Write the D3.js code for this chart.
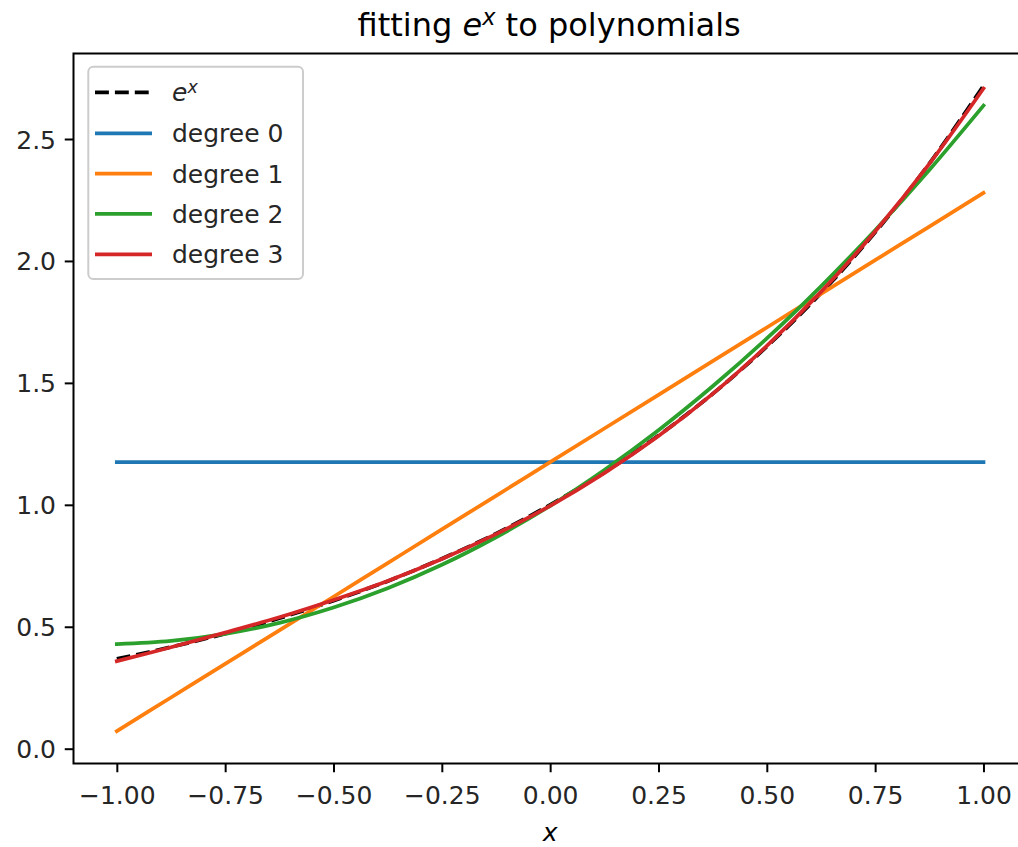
<!DOCTYPE html>
<html>
<head>
<meta charset="utf-8">
<script src="https://cdn.jsdelivr.net/npm/d3@7"></script>
<style>
  html, body { margin: 0; padding: 0; background: #fff; }
  svg { display: block; font-family: "DejaVu Sans", sans-serif; }
</style>
</head>
<body>
<svg id="chart" width="1018" height="847"></svg>
<script>
// ---- data ----
const xs = [-1, -0.875, -0.75, -0.625, -0.5, -0.375, -0.25, -0.125, 0,
            0.125, 0.25, 0.375, 0.5, 0.625, 0.75, 0.875, 1];
const expValues = [0.368, 0.417, 0.472, 0.535, 0.607, 0.687, 0.779, 0.882, 1.000,
                   1.133, 1.284, 1.455, 1.649, 1.868, 2.117, 2.399, 2.718];
const deg0Values = [1.175, 1.175, 1.175, 1.175, 1.175, 1.175, 1.175, 1.175, 1.175,
                    1.175, 1.175, 1.175, 1.175, 1.175, 1.175, 1.175, 1.175];
const deg1Values = [0.072, 0.210, 0.348, 0.485, 0.623, 0.761, 0.899, 1.037, 1.175,
                    1.313, 1.451, 1.589, 1.727, 1.865, 2.003, 2.141, 2.279];
const deg2Values = [0.429, 0.442, 0.471, 0.516, 0.579, 0.658, 0.754, 0.867, 0.996,
                    1.143, 1.306, 1.486, 1.682, 1.896, 2.126, 2.373, 2.637];
const deg3Values = [0.359, 0.416, 0.476, 0.539, 0.610, 0.688, 0.778, 0.880, 0.996,
                    1.130, 1.282, 1.455, 1.652, 1.873, 2.121, 2.398, 2.707];
const xTicks = [-1.00, -0.75, -0.50, -0.25, 0.00, 0.25, 0.50, 0.75, 1.00];
const yTicks = [0.0, 0.5, 1.0, 1.5, 2.0, 2.5];
const seriesNames = ["degree 0", "degree 1", "degree 2", "degree 3"];
const seriesColors = ["#1f77b4", "#ff7f0e", "#2ca02c", "#d62728"];

// ---- layout ----
const svg = d3.select("#chart");
const L = 73.5, R = 1026.8, T = 53.5, B = 763.5;
const tickFont = 25, titleFont = 32;
const lw = 3.75;

const x = d3.scaleLinear().domain([-1.1, 1.1]).range([L, R]);
const y = d3.scaleLinear().domain([-0.0607, 2.8506]).range([B, T]);

svg.append("rect").attr("width", 1018).attr("height", 847).attr("fill", "#fff");

const clip = svg.append("defs").append("clipPath").attr("id", "plotclip");
clip.append("rect").attr("x", L).attr("y", T).attr("width", R - L).attr("height", B - T);

const plot = svg.append("g").attr("clip-path", "url(#plotclip)");
const line = d3.line().x(d => x(d[0])).y(d => y(d[1])).curve(d3.curveCatmullRom);

function addLine(vals, color, dashed) {
  plot.append("path")
    .datum(xs.map((v, i) => [v, vals[i]]))
    .attr("d", line)
    .attr("fill", "none")
    .attr("stroke", color)
    .attr("stroke-width", lw)
    .attr("stroke-linecap", dashed ? "butt" : "square")
    .attr("stroke-linejoin", "round")
    .attr("stroke-dasharray", dashed ? "13.9,6" : null);
}
addLine(expValues, "#000", true);
[deg0Values, deg1Values, deg2Values, deg3Values].forEach((v, i) => addLine(v, seriesColors[i], false));

// ---- axes ----
const xAxis = d3.axisBottom(x).tickValues(xTicks)
  .tickFormat(d => d3.format(".2f")(d).replace("-", "\u2212"))
  .tickSize(8.75).tickPadding(8.75);
const gx = svg.append("g").attr("transform", `translate(0,${B})`).call(xAxis);
const yAxis = d3.axisLeft(y).tickValues(yTicks)
  .tickFormat(d3.format(".1f")).tickSize(8.75).tickPadding(8.75);
const gy = svg.append("g").attr("transform", `translate(${L},0)`).call(yAxis);
[gx, gy].forEach(g => {
  g.select(".domain").remove();
  g.selectAll(".tick line").attr("stroke", "#000").attr("stroke-width", 2);
  g.selectAll(".tick text").attr("font-size", tickFont).attr("fill", "#262626")
    .attr("font-family", "DejaVu Sans");
});
gx.selectAll(".tick text").attr("dy", null).attr("y", 40.5);
gy.selectAll(".tick text").attr("dy", "0.36em");

// spines
svg.append("rect").attr("x", L).attr("y", T).attr("width", R - L).attr("height", B - T)
  .attr("fill", "none").attr("stroke", "#000").attr("stroke-width", 2);

// ---- title ----
const title = svg.append("text").attr("x", (L + R) / 2 - 1).attr("y", 36)
  .attr("text-anchor", "middle").attr("font-size", titleFont).attr("fill", "#000");
title.append("tspan").text("fitting ");
title.append("tspan").attr("font-style", "italic").text("e");
title.append("tspan").attr("font-style", "italic").attr("font-size", titleFont * 0.7)
  .attr("dy", -titleFont * 0.33).text("x");
title.append("tspan").attr("dy", titleFont * 0.33).text(" to polynomials");

// ---- x label ----
svg.append("text").attr("x", (L + R) / 2).attr("y", 841)
  .attr("text-anchor", "middle").attr("font-size", tickFont).attr("font-style", "italic")
  .attr("fill", "#000").text("x");

// ---- legend ----
const leg = svg.append("g");
leg.append("rect").attr("x", 88.3).attr("y", 66.7).attr("width", 214.7).attr("height", 212.3)
  .attr("rx", 5).attr("fill", "#fff").attr("fill-opacity", 0.8)
  .attr("stroke", "#cccccc").attr("stroke-width", 2);
const rowY = [92.3, 133.3, 173.6, 213.9, 254.3];
const legendItems = [{name: "e^x", color: "#000", dashed: true}]
  .concat(seriesNames.map((n, i) => ({name: n, color: seriesColors[i], dashed: false})));
legendItems.forEach((it, i) => {
  leg.append("line").attr("x1", 95).attr("x2", 152).attr("y1", rowY[i]).attr("y2", rowY[i])
    .attr("stroke", it.color).attr("stroke-width", lw)
    .attr("stroke-dasharray", it.dashed ? "13.9,6" : null);
  const t = leg.append("text").attr("x", 172).attr("y", rowY[i] + 9)
    .attr("font-size", tickFont).attr("fill", "#262626");
  if (it.name === "e^x") {
    t.append("tspan").attr("font-style", "italic").text("e");
    t.append("tspan").attr("font-style", "italic").attr("font-size", tickFont * 0.7)
      .attr("dy", -tickFont * 0.33).text("x");
  } else {
    t.text(it.name);
  }
});
</script>
</body>
</html>
